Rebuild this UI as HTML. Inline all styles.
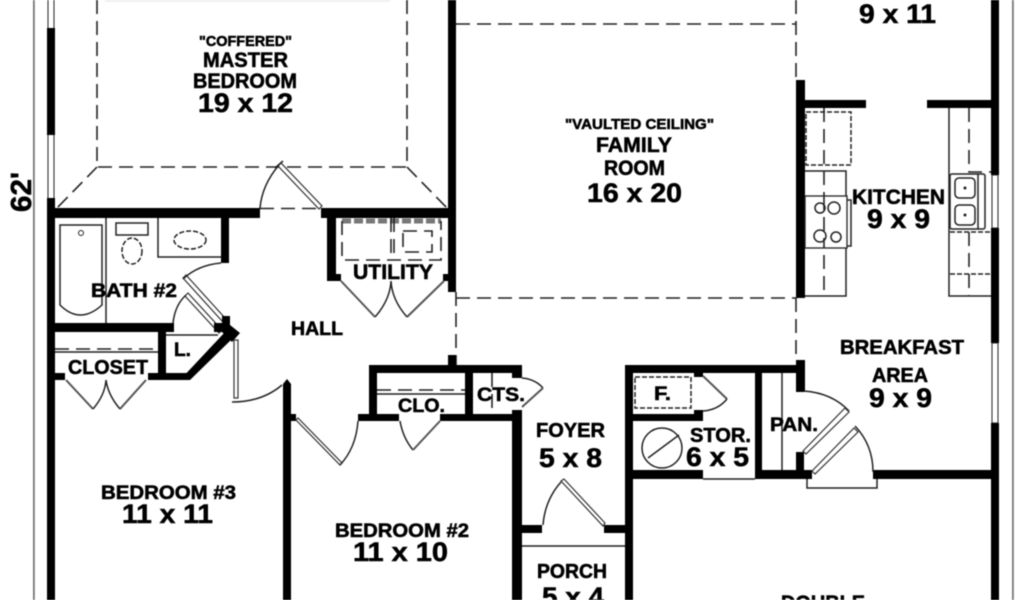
<!DOCTYPE html>
<html><head><meta charset="utf-8"><style>
html,body{margin:0;padding:0;background:#fff;width:1024px;height:600px;overflow:hidden}
svg{display:block;filter:blur(.45px)}
text{font-family:"Liberation Sans",sans-serif;font-weight:bold;fill:#000;stroke:#000;stroke-width:.55}
.w{fill:#000}
.t{fill:none;stroke:#222;stroke-width:1}
.m{fill:none;stroke:#222;stroke-width:1.5}
.d{fill:none;stroke:#222;stroke-width:1.6;stroke-dasharray:14 7}
.s{fill:none;stroke:#222;stroke-width:1.5;stroke-dasharray:5 2}
.lf{fill:#fff;stroke:#333;stroke-width:1.2}
</style></head><body>
<svg width="1024" height="600" viewBox="0 0 1024 600" xmlns="http://www.w3.org/2000/svg">
<rect width="1024" height="600" fill="#fff"/>
<!-- dimension lines -->
<rect x="33" y="0" width="1.8" height="600" fill="#777"/>
<rect x="1012" y="0" width="1.8" height="600" fill="#777"/>
<!-- faint top -->
<rect x="105" y="0" width="285" height="2" fill="#f0f0f0"/>
<!-- outer walls -->
<rect class="w" x="47" y="28" width="8" height="107"/>
<rect class="w" x="47" y="198" width="8" height="402"/>
<path class="t" d="M48 0V28M54 0V28M48 135V198M54 135V198" stroke="#777"/>
<rect class="w" x="991" y="0" width="8" height="175"/>
<rect class="w" x="991" y="228" width="8" height="115"/>
<rect class="w" x="991" y="423" width="8" height="177"/>
<path class="t" d="M992 175H998V228H992M992 343H998V423H992M992 175V228M992 343V423" stroke="#777"/>
<!-- master bottom wall -->
<rect class="w" x="47" y="208" width="213" height="10"/>
<rect class="w" x="321" y="208" width="127" height="10"/>
<rect class="w" x="448" y="0" width="8" height="292"/>
<!-- coffer dashes -->
<path class="d" d="M97 0V167H407V0"/>
<path class="d" d="M97 167L57 208M407 167L447 208M260 208.500H321"/>
<!-- family dashes -->
<path class="d" d="M456 24H796M456 298H796M796 0V80M796 298V360M456 292V365"/>
<!-- kitchen -->
<rect class="w" x="796" y="80" width="9" height="218"/>
<rect class="w" x="804" y="100" width="62" height="8"/>
<rect class="w" x="927" y="100" width="64" height="8"/>
<rect class="s" x="806" y="112" width="45" height="53"/>
<path class="m" d="M805 171H846V296H805"/>
<path class="d" d="M824 108V296"/>
<rect x="805" y="196" width="42" height="52" fill="#fff" stroke="#222" stroke-width="1.3"/>
<path class="m" d="M847 200H851V246H847"/>
<path class="d" d="M824 196V248" stroke-dasharray="12 5"/>
<circle class="m" cx="820" cy="208" r="5"/><circle class="m" cx="834" cy="208" r="6"/>
<circle class="m" cx="820" cy="236" r="6"/><circle class="m" cx="836" cy="237" r="5"/>
<path class="m" d="M949 108V296H991"/>
<path class="d" d="M969 108V172H991"/>
<rect x="950" y="174" width="35" height="55" fill="#fff" stroke="#222" stroke-width="1.5" rx="2"/>
<rect class="m" x="955" y="178" width="20" height="20" rx="4"/>
<rect class="m" x="955" y="205" width="20" height="20" rx="4"/>
<circle cx="965" cy="188" r="1.500" fill="#222"/><circle cx="965" cy="215" r="1.500" fill="#222"/>
<path class="m" d="M978 174V229"/>
<path class="s" d="M950 232H991"/>
<path class="s" d="M950 274H991" stroke-dasharray="4 2"/>
<path class="d" d="M969 232V296"/>
<!-- bath -->
<rect class="w" x="221" y="217" width="8" height="46"/>
<rect class="w" x="47" y="323" width="127" height="9"/>
<path class="m" d="M106 218V323"/>
<path class="m" d="M60 225H102V305Q80 325 60 305Z"/>
<circle class="t" cx="81" cy="233" r="2.500"/>
<rect class="m" x="116" y="223" width="32" height="12"/>
<ellipse class="s" cx="132" cy="251" rx="10" ry="13"/>
<path class="m" d="M158 218V257H221"/>
<ellipse class="s" cx="190" cy="240" rx="16" ry="9"/>
<!-- bath doors -->
<path class="lf" d="M183 278L186 275L225 318L222 321Z"/>
<path class="lf" d="M185 296L188 293L222 330L219 333Z"/>
<path class="m" d="M183 279Q198 265 221 263M186 295Q175 305 173 323"/>
<!-- closet + L -->
<rect class="w" x="158" y="330" width="8" height="45"/>
<rect class="w" x="55" y="373" width="10" height="7"/>
<rect class="w" x="148" y="373" width="42" height="7"/>
<path class="w" d="M180 380L226 331L233 338L190 380Z"/>
<path class="w" d="M214 323H222V316H230V325L240 333L232 342L222 332H214Z"/>
<path class="d" d="M55 349H158" stroke-dasharray="12 6"/>
<path class="m" d="M55 352H158M166 335H218"/>
<path d="M66 380L93 409M146 380L120 409" fill="none" stroke="#555" stroke-width="2"/>
<path class="m" d="M93 409Q105 395 106 380Q108 395 120 409"/>
<!-- bed3 door -->
<path class="lf" d="M234 340H238V398H234Z"/>
<path class="m" d="M232 402Q262 402 282 385"/>
<rect class="w" x="283" y="384" width="8" height="216"/>
<path class="w" d="M283 384L287 379L291 384Z"/>
<rect class="w" x="291" y="414" width="5" height="7"/>
<!-- bed2 door -->
<path class="lf" d="M296 420L298 418L342 463L340 465Z"/>
<path class="m" d="M340 465Q356 448 358 421"/>
<rect class="w" x="358" y="414" width="41" height="7"/>
<!-- clo -->
<rect class="w" x="369" y="365" width="8" height="50"/>
<rect class="w" x="369" y="365" width="153" height="8"/>
<rect class="w" x="465" y="365" width="8" height="50"/>
<rect class="w" x="440" y="414" width="82" height="7"/>
<rect class="w" x="448" y="355" width="8" height="12"/>
<path class="d" d="M377 390H465" stroke-dasharray="10 4"/>
<path class="m" d="M377 394H465"/>
<path class="m" d="M400 421Q403 438 413 450"/>
<path d="M440 421L413 450" fill="none" stroke="#555" stroke-width="2"/>
<path class="d" d="M492 373V414" stroke-dasharray="7 18"/>
<!-- cts door -->
<rect class="w" x="512" y="365" width="10" height="13"/>
<rect class="w" x="512" y="410" width="10" height="190"/>
<path class="m" d="M522 378Q535 379 543 388"/>
<path d="M543 388L522 407" fill="none" stroke="#555" stroke-width="2"/>
<!-- utility -->
<rect class="w" x="327" y="218" width="9" height="63"/>
<rect class="w" x="336" y="274" width="5" height="7"/>
<rect class="w" x="443" y="274" width="5" height="7"/>
<path d="M342 221H441" fill="none" stroke="#777" stroke-width="5" stroke-dasharray="9 3"/>
<path class="d" d="M342 221V260H441V221" stroke-dasharray="12 3"/>
<path class="d" d="M391 218V260M394 218V260" stroke-dasharray="10 2"/>
<rect class="d" x="403" y="231" width="29" height="21" stroke-dasharray="7 3"/>
<path d="M341 281L375 317M444 281L407 317" fill="none" stroke="#555" stroke-width="2"/>
<path class="m" d="M375 317Q390 300 391 281Q392 300 407 317"/>
<!-- mid block -->
<rect class="w" x="625" y="365" width="8" height="235"/>
<rect class="w" x="625" y="365" width="180" height="8"/>
<rect class="w" x="796" y="360" width="9" height="32"/>
<rect class="s" x="635" y="377" width="56" height="31"/>
<rect class="w" x="633" y="414" width="70" height="7"/>
<rect class="w" x="694" y="410" width="9" height="11"/>
<rect class="w" x="694" y="373" width="9" height="4"/>
<path d="M703 376L727 399" fill="none" stroke="#555" stroke-width="2"/>
<path class="m" d="M727 399Q718 410 703 411"/>
<circle class="m" cx="662" cy="448" r="20"/>
<path class="m" d="M648 458L679 435"/>
<rect class="w" x="633" y="470" width="70" height="9"/>
<path class="m" d="M703 479H755"/>
<rect class="w" x="755" y="373" width="7" height="106"/>
<path class="m" d="M782 373V470"/>
<rect class="w" x="755" y="470" width="57" height="9"/>
<rect class="w" x="796" y="452" width="8" height="20"/>
<rect class="w" x="873" y="470" width="118" height="9"/>
<path class="m" d="M807 479V488H877V479"/>
<!-- rear double door -->
<path class="lf" d="M803 451L845 408L849 412L806 454Z"/>
<path class="lf" d="M812 471L854 428L858 432L815 474Z"/>
<path class="m" d="M804 391Q832 393 849 411M855 426Q873 445 873 472"/>
<!-- master door -->
<path class="lf" d="M278 166L281 163L322 206L319 209Z"/>
<path class="m" d="M279 165Q262 185 260 208M275 168L283 161"/>
<!-- foyer door -->
<rect class="w" x="522" y="525" width="20" height="8"/>
<rect class="w" x="604" y="525" width="21" height="8"/>
<path class="lf" d="M561 481L564 479L605 523L603 526Z"/>
<path class="m" d="M561 482Q545 500 543 525"/>
<path class="m" d="M522 546H625"/>

<!-- labels -->
<text x="199" y="46" font-size="15" textLength="93" lengthAdjust="spacingAndGlyphs">"COFFERED"</text>
<text x="203" y="67" font-size="21" textLength="85" lengthAdjust="spacingAndGlyphs">MASTER</text>
<text x="193" y="88" font-size="21" textLength="104" lengthAdjust="spacingAndGlyphs">BEDROOM</text>
<text x="198" y="112" font-size="27" textLength="95" lengthAdjust="spacingAndGlyphs">19 x 12</text>
<text x="565" y="129" font-size="15" textLength="149" lengthAdjust="spacingAndGlyphs">"VAULTED CEILING"</text>
<text x="596" y="152" font-size="21" textLength="76" lengthAdjust="spacingAndGlyphs">FAMILY</text>
<text x="604" y="175" font-size="21" textLength="61" lengthAdjust="spacingAndGlyphs">ROOM</text>
<text x="587" y="202" font-size="27" textLength="95" lengthAdjust="spacingAndGlyphs">16 x 20</text>
<text x="852" y="204" font-size="21" textLength="93" lengthAdjust="spacingAndGlyphs">KITCHEN</text>
<text x="867" y="228" font-size="27" textLength="63" lengthAdjust="spacingAndGlyphs">9 x 9</text>
<text x="859" y="23" font-size="27" textLength="77" lengthAdjust="spacingAndGlyphs">9 x 11</text>
<text x="91" y="297" font-size="19" textLength="86" lengthAdjust="spacingAndGlyphs">BATH #2</text>
<text x="353" y="279" font-size="21" textLength="80" lengthAdjust="spacingAndGlyphs">UTILITY</text>
<text x="291" y="335" font-size="19" textLength="52" lengthAdjust="spacingAndGlyphs">HALL</text>
<text x="68" y="374" font-size="20" textLength="80" lengthAdjust="spacingAndGlyphs">CLOSET</text>
<text x="174" y="356" font-size="19" textLength="17" lengthAdjust="spacingAndGlyphs">L.</text>
<text x="398" y="412" font-size="19" textLength="47" lengthAdjust="spacingAndGlyphs">CLO.</text>
<text x="477" y="401" font-size="19" textLength="48" lengthAdjust="spacingAndGlyphs">CTS.</text>
<text x="101" y="499" font-size="19" textLength="135" lengthAdjust="spacingAndGlyphs">BEDROOM #3</text>
<text x="122" y="523" font-size="27" textLength="91" lengthAdjust="spacingAndGlyphs">11 x 11</text>
<text x="335" y="537" font-size="19" textLength="134" lengthAdjust="spacingAndGlyphs">BEDROOM #2</text>
<text x="353" y="561" font-size="27" textLength="95" lengthAdjust="spacingAndGlyphs">11 x 10</text>
<text x="536" y="437" font-size="20" textLength="69" lengthAdjust="spacingAndGlyphs">FOYER</text>
<text x="539" y="467" font-size="27" textLength="63" lengthAdjust="spacingAndGlyphs">5 x 8</text>
<text x="537" y="578" font-size="20" textLength="70" lengthAdjust="spacingAndGlyphs">PORCH</text>
<text x="542" y="606" font-size="27" textLength="62" lengthAdjust="spacingAndGlyphs">5 x 4</text>
<text x="654" y="400" font-size="19" textLength="17" lengthAdjust="spacingAndGlyphs">F.</text>
<text x="690" y="442" font-size="20" textLength="61" lengthAdjust="spacingAndGlyphs">STOR.</text>
<text x="686" y="466" font-size="27" textLength="63" lengthAdjust="spacingAndGlyphs">6 x 5</text>
<text x="770" y="431" font-size="19" textLength="48" lengthAdjust="spacingAndGlyphs">PAN.</text>
<text x="840" y="354" font-size="20" textLength="124" lengthAdjust="spacingAndGlyphs">BREAKFAST</text>
<text x="872" y="382" font-size="20" textLength="56" lengthAdjust="spacingAndGlyphs">AREA</text>
<text x="869" y="407" font-size="27" textLength="63" lengthAdjust="spacingAndGlyphs">9 x 9</text>
<text x="781" y="610" font-size="21" textLength="84" lengthAdjust="spacingAndGlyphs">DOUBLE</text>
<text transform="translate(31 212) rotate(-90)" font-size="29" textLength="40" lengthAdjust="spacingAndGlyphs">62'</text>
</svg>
</body></html>
